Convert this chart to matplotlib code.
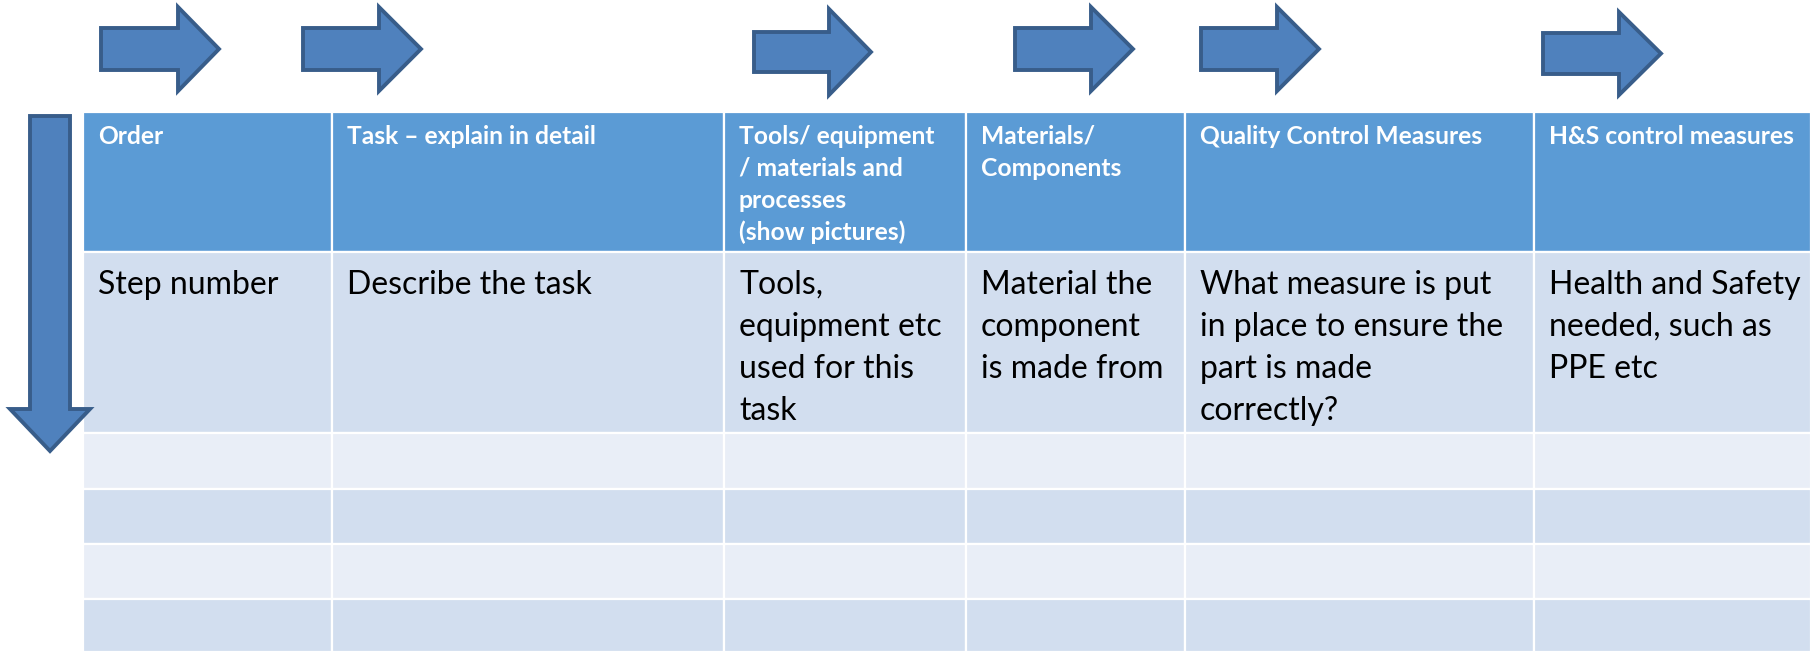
import matplotlib
matplotlib.use("Agg")
import matplotlib.pyplot as plt
from matplotlib.patches import Polygon, Rectangle

# ---- data ----
headers = [
    "Order",
    "Task \u2013 explain in detail",
    "Tools/ equipment\n/ materials and\nprocesses\n(show pictures)",
    "Materials/\nComponents",
    "Quality Control Measures",
    "H&S control measures",
]
first_row = [
    "Step number",
    "Describe the task",
    "Tools,\nequipment etc\nused for this\ntask",
    "Material the\ncomponent\nis made from",
    "What measure is put\nin place to ensure the\npart is made\ncorrectly?",
    "Health and Safety\nneeded, such as\nPPE etc",
]
n_empty_rows = 4

# ---- layout (pixel coordinates) ----
W, H = 1816, 652
col_edges = [83, 332, 724, 966, 1185, 1534, 1811]
row_edges = [112, 252, 433, 489, 544, 599, 652]
header_color = "#5B9BD5"
row_colors = ["#D2DEEF", "#E9EEF7"]
arrow_fill = "#4F81BD"
arrow_edge = "#385D8A"

# right arrows: x0, head start, tip, shaft top, shaft bottom, head top, head bottom
right_arrows = [
    (101, 178, 219, 28, 70, 7, 91),
    (303, 379, 421, 28, 70, 7, 91),
    (754, 829, 871, 32, 72, 9, 95),
    (1015, 1091, 1133, 28, 70, 7, 91),
    (1201, 1277, 1319, 28, 70, 7, 91),
    (1543, 1619, 1661, 33, 74, 12, 95),
]
# down arrow: shaft left, shaft right, top, head start, tip, head left, head right
down_arrow = (30, 70, 116, 409, 451, 10, 90)

fig = plt.figure(figsize=(W / 100, H / 100), dpi=100)
ax = fig.add_axes([0, 0, 1, 1])
ax.set_xlim(0, W)
ax.set_ylim(H, 0)
ax.axis("off")

font = "Lato"

# table cells
for r in range(len(row_edges) - 1):
    y0, y1 = row_edges[r], row_edges[r + 1]
    if r == 0:
        fc = header_color
    else:
        fc = row_colors[(r - 1) % 2]
    for c in range(len(col_edges) - 1):
        x0, x1 = col_edges[c], col_edges[c + 1]
        ax.add_patch(Rectangle((x0, y0), x1 - x0, y1 - y0, facecolor=fc,
                               edgecolor="white", linewidth=1.6))

pad = 15
# header text
for c, txt in enumerate(headers):
    for i, line in enumerate(txt.split("\n")):
        ax.text(col_edges[c] + pad, 144 + i * 32, line, color="white",
                fontsize=17.7, fontweight="bold", family=font, va="baseline", ha="left")
# first data row
for c, txt in enumerate(first_row):
    for i, line in enumerate(txt.split("\n")):
        ax.text(col_edges[c] + pad, 294 + i * 42, line, color="black",
                fontsize=23, family=font, va="baseline", ha="left")

# arrows
for (x0, xh, x1, s0, s1, h0, h1) in right_arrows:
    yc = (h0 + h1) / 2
    pts = [(x0, s0), (xh, s0), (xh, h0), (x1, yc), (xh, h1), (xh, s1), (x0, s1)]
    ax.add_patch(Polygon(pts, closed=True, facecolor=arrow_fill,
                         edgecolor=arrow_edge, linewidth=2.8, joinstyle="miter"))

sl, sr, top, hs, tip, hl, hr = down_arrow
xc = (hl + hr) / 2
pts = [(sl, top), (sr, top), (sr, hs), (hr, hs), (xc, tip), (hl, hs), (sl, hs)]
ax.add_patch(Polygon(pts, closed=True, facecolor=arrow_fill,
                     edgecolor=arrow_edge, linewidth=2.8, joinstyle="miter"))

fig.savefig("out.png", dpi=100, facecolor="white")
